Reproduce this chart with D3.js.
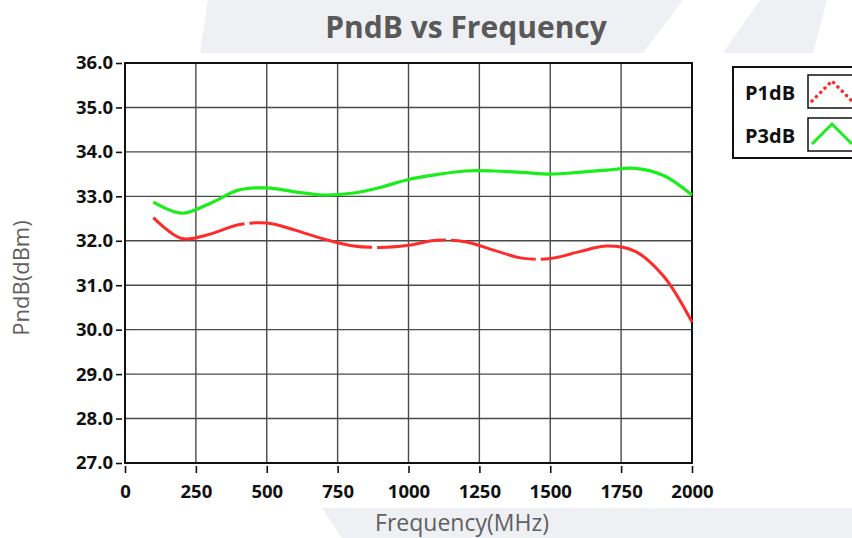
<!DOCTYPE html>
<html>
<head>
<meta charset="utf-8">
<script src="https://cdn.jsdelivr.net/npm/d3@7"></script>
<style>
  html, body { margin: 0; padding: 0; background: #fff; }
  svg { display: block; font-family: "Open Sans", "DejaVu Sans", sans-serif; }
</style>
</head>
<body>
<div id="chart"></div>
<script>
// data
const frequencies = [100, 200, 300, 400, 500, 600, 700, 800, 900, 1000, 1100, 1200, 1300, 1400, 1500, 1600, 1700, 1800, 1900, 2000]
const p1dB = [32.52, 32.05, 32.15, 32.36, 32.40, 32.24, 32.04, 31.89, 31.85, 31.90, 32.01, 31.98, 31.79, 31.61, 31.60, 31.75, 31.88, 31.76, 31.20, 30.17]
const p3dB = [32.87, 32.62, 32.84, 33.14, 33.19, 33.10, 33.03, 33.07, 33.20, 33.38, 33.49, 33.57, 33.57, 33.54, 33.50, 33.54, 33.59, 33.63, 33.47, 33.03]
// frequencies where the P1dB trace shows small breaks
const p1dBBreaks = [430, 880, 1140, 1457]
const seriesNames = ["P1dB", "P3dB"]
const xTicks = [0, 250, 500, 750, 1000, 1250, 1500, 1750, 2000]
const yTicks = [27, 28, 29, 30, 31, 32, 33, 34, 35, 36]

const W = 852, H = 538
const plot = { left: 125, right: 692, top: 63, bottom: 463 }

let svg = d3.select("#chart").append("svg")
    .attr("width", W)
    .attr("height", H)

// light watermark shapes in the background
let bg = svg.append("g").attr("fill", "#eff0f4")
bg.append("path").attr("d", "M208,0 L683,0 L643,53 L200,53 Z")
bg.append("path").attr("d", "M760,0 L827,0 L813,53 L723,53 Z")
bg.append("path").attr("d", "M322,508 L852,508 L852,538 L342,538 Z")

let x = d3.scaleLinear().domain([0, 2000]).range([plot.left, plot.right])
let y = d3.scaleLinear().domain([27, 36]).range([plot.bottom, plot.top])

// plot background
svg.append("rect")
    .attr("x", plot.left).attr("y", plot.top)
    .attr("width", plot.right - plot.left).attr("height", plot.bottom - plot.top)
    .attr("fill", "#fff")

// grid
svg.append("g").selectAll("line").data(xTicks.slice(1, -1)).join("line")
    .attr("x1", d => x(d)).attr("x2", d => x(d))
    .attr("y1", plot.top).attr("y2", plot.bottom)
    .attr("stroke", "#4a4a4a").attr("stroke-width", 1.4)
svg.append("g").selectAll("line").data(yTicks.slice(1, -1)).join("line")
    .attr("x1", plot.left).attr("x2", plot.right)
    .attr("y1", d => y(d)).attr("y2", d => y(d))
    .attr("stroke", "#4a4a4a").attr("stroke-width", 1.4)

// frame
svg.append("rect")
    .attr("x", plot.left).attr("y", plot.top)
    .attr("width", plot.right - plot.left).attr("height", plot.bottom - plot.top)
    .attr("fill", "none").attr("stroke", "#111").attr("stroke-width", 2)

// axes (ticks sit a little away from the frame)
let yAxis = svg.append("g")
    .attr("transform", `translate(${plot.left - 3},0)`)
    .call(d3.axisLeft(y).tickValues(yTicks).tickFormat(d3.format(".1f")).tickSize(6).tickSizeOuter(0).tickPadding(3))
let xAxis = svg.append("g")
    .attr("transform", `translate(0,${plot.bottom + 3})`)
    .call(d3.axisBottom(x).tickValues(xTicks).tickFormat(d3.format("d")).tickSize(7).tickSizeOuter(0).tickPadding(12))
for (let ax of [xAxis, yAxis]) {
    ax.select(".domain").remove()
    ax.selectAll(".tick line").attr("stroke", "#111").attr("stroke-width", 1.6)
    ax.selectAll(".tick text")
        .attr("fill", "#111")
        .style("font-family", "'Open Sans', sans-serif")
        .style("font-weight", "bold")
        .style("font-size", "18.5px")
}

// series
let line = d3.line()
    .x((d, i) => x(frequencies[i]))
    .y(d => y(d))
    .curve(d3.curveCatmullRom.alpha(0.5))

svg.append("path").datum(p3dB)
    .attr("d", line)
    .attr("fill", "none").attr("stroke", "#1aee1a").attr("stroke-width", 3.2)
let redPath = svg.append("path").datum(p1dB)
    .attr("d", line)
    .attr("fill", "none").attr("stroke", "#ff2a2a").attr("stroke-width", 3)

// turn the break frequencies into a dash pattern along the path
let node = redPath.node()
let total = node.getTotalLength()
function lengthAtX(px) {
    let lo = 0, hi = total
    for (let k = 0; k < 40; k++) {
        let mid = (lo + hi) / 2
        if (node.getPointAtLength(mid).x < px) lo = mid; else hi = mid
    }
    return lo
}
let gap = 5, dashes = [], last = 0
p1dBBreaks.forEach(f => {
    let at = lengthAtX(x(f))
    dashes.push(at - gap / 2 - last, gap)
    last = at + gap / 2
})
dashes.push(total - last + 10, 0)
redPath.attr("stroke-dasharray", dashes.join(","))

// titles
svg.append("text")
    .attr("x", 466).attr("y", 38)
    .attr("text-anchor", "middle")
    .attr("fill", "#595959")
    .style("font-size", "30px").style("font-weight", "bold")
    .text("PndB vs Frequency")
svg.append("text")
    .attr("x", 462).attr("y", 531)
    .attr("text-anchor", "middle")
    .attr("fill", "#606060")
    .style("font-size", "23px")
    .text("Frequency(MHz)")
svg.append("text")
    .attr("transform", "translate(29,278) rotate(-90)")
    .attr("text-anchor", "middle")
    .attr("fill", "#606060")
    .style("font-size", "22px")
    .text("PndB(dBm)")

// legend
let legend = svg.append("g")
legend.append("rect")
    .attr("x", 733).attr("y", 67).attr("width", 140).attr("height", 91)
    .attr("fill", "#fff").attr("stroke", "#111").attr("stroke-width", 2)
let legendColors = ["#ff2a2a", "#1aee1a"]
let legendDash = ["0.1,6", null]
seriesNames.forEach((name, i) => {
    let top = 75 + i * 43
    legend.append("text")
        .attr("x", 745).attr("y", top + 25)
        .attr("fill", "#111")
        .style("font-size", "20px").style("font-weight", "bold")
        .text(name)
    legend.append("rect")
        .attr("x", 808).attr("y", top).attr("width", 60).attr("height", 33)
        .attr("fill", "#fff").attr("stroke", "#111").attr("stroke-width", 1.5)
    legend.append("path")
        .attr("d", `M812,${top + 26} L832,${top + 6} L852,${top + 26}`)
        .attr("fill", "none")
        .attr("stroke", legendColors[i])
        .attr("stroke-width", i == 0 ? 3.5 : 3)
        .attr("stroke-linecap", i == 0 ? "round" : "butt")
        .attr("stroke-dasharray", legendDash[i])
})
</script>
</body>
</html>
